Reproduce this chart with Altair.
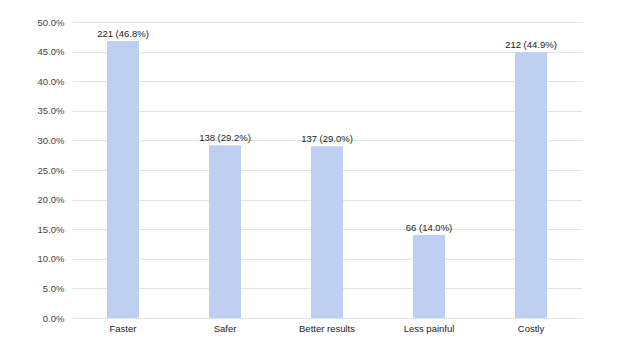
import altair as alt
import pandas as pd

categories = ["Faster", "Safer", "Better results", "Less painful", "Costly"]
counts = [221, 138, 137, 66, 212]
percents = [46.8, 29.2, 29.0, 14.0, 44.9]
y_ticks = [0.0, 0.05, 0.10, 0.15, 0.20, 0.25, 0.30, 0.35, 0.40, 0.45, 0.50]

df = pd.DataFrame({
    "cat": categories,
    "count": counts,
    "pct": [p / 100 for p in percents],
    "label": [f"{c} ({p:.1f}%)" for c, p in zip(counts, percents)],
})

FONT = "Liberation Sans"

base = alt.Chart(df).encode(
    x=alt.X("cat:N", sort=categories, title=None,
            scale=alt.Scale(paddingInner=0, paddingOuter=0),
            axis=alt.Axis(labelAngle=0, ticks=False, domain=False, labelPadding=5,
                          labelFont=FONT, labelFontSize=9.5, labelColor="#222222")),
    y=alt.Y("pct:Q", title=None,
            scale=alt.Scale(domain=[0, 0.5]),
            axis=alt.Axis(format=".1%", values=y_ticks, labelOverlap=False,
                          ticks=False, domain=False, labelPadding=8,
                          labelFont=FONT, labelFontSize=9.5, labelColor="#444444",
                          gridColor="#e4e4e4", gridWidth=1)),
)

bars = base.mark_bar(size=32, color="#bdd0f1")
text = base.mark_text(dy=-7, font=FONT, fontSize=9.5, color="#222222").encode(text="label:N")

chart = (bars + text).properties(
    width=510, height=296,
    autosize=alt.AutoSizeParams(type="none"),
    padding={"left": 72, "top": 22, "right": 42, "bottom": 33},
).configure_view(stroke=None)

chart.save("out.html", embed_options={"renderer": "svg", "actions": False})
